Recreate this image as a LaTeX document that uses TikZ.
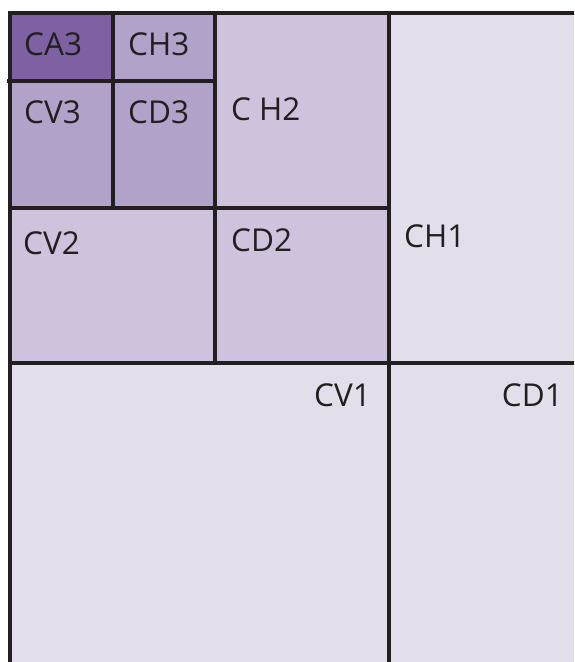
\documentclass[tikz,border=0pt]{standalone}
\usepackage{fontspec}
\setmainfont{Open Sans}
\definecolor{lv0}{HTML}{E3DEEA}
\definecolor{lv1}{HTML}{CFC2DD}
\definecolor{lv2}{HTML}{B1A2C9}
\definecolor{lv3}{HTML}{7D61A2}
\definecolor{ink}{HTML}{231F20}
\tikzset{
  grid line/.style={draw=ink,line width=4.5pt},
  lbl/.style={inner sep=0pt,text=ink,font=\fontsize{31.5}{31.5}\selectfont},
}
\begin{document}
\begin{tikzpicture}[x=1pt,y=-1pt]
\useasboundingbox (0,0) rectangle (574,662);
% fills
\fill[lv0] (10,13) rectangle (574,662);
\fill[lv1] (10,13) rectangle (389,363);
\fill[lv2] (10,13) rectangle (215,208);
\fill[lv3] (10,13) rectangle (113,81);
% lines
\draw[grid line] (8,13) -- (574,13);
\draw[grid line] (10,11) -- (10,662);
\draw[grid line] (389,13) -- (389,662);
\draw[grid line] (10,363) -- (574,363);
\draw[grid line] (215,13) -- (215,363);
\draw[grid line] (10,208) -- (391,208);
\draw[grid line] (113,13) -- (113,208);
\draw[grid line] (7,81) -- (215,81);
% labels
\node[lbl,anchor=base west] (ca3) at (24,55) {CA3};
\node[lbl,anchor=base west] (ch3) at (128,55) {CH3};
\node[lbl,anchor=base west] (cv3) at (24,123) {CV3};
\node[lbl,anchor=base west] (cd3) at (128,123) {CD3};
\node[lbl,anchor=base west] (ch2) at (231,120) {C H2};
\node[lbl,anchor=base west] (cv2) at (23,254) {CV2};
\node[lbl,anchor=base west] (cd2) at (231,251) {CD2};
\node[lbl,anchor=base west] (ch1) at (404,247) {CH1};
\node[lbl,anchor=base east] (cv1) at (371,406) {CV1};
\node[lbl,anchor=base east] (cd1) at (563,406) {CD1};
\end{tikzpicture}
\end{document}
